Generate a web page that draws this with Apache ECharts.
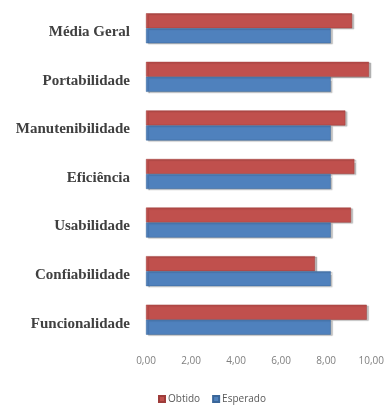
<!DOCTYPE html>
<html>
<head>
<meta charset="utf-8">
<script src="https://cdn.jsdelivr.net/npm/echarts@6/dist/echarts.min.js"></script>
<style>html,body{margin:0;padding:0;background:#fff;}#c{width:387px;height:405px;}</style>
</head>
<body>
<div id="c"></div>
<script>
// categories bottom -> top (ECharts category y-axis starts at bottom)
var categories = ['Funcionalidade', 'Confiabilidade', 'Usabilidade', 'Eficiência', 'Manutenibilidade', 'Portabilidade', 'Média Geral'];
var obtido = [9.8, 7.5, 9.1, 9.25, 8.85, 9.9, 9.15];
var esperado = [8.2, 8.2, 8.2, 8.2, 8.2, 8.2, 8.2];
var xTicks = [0, 2, 4, 6, 8, 10];

var chart = echarts.init(document.getElementById('c'), null, {renderer: 'canvas'});
chart.setOption({
  animation: false,
  backgroundColor: '#ffffff',
  grid: {left: 146, right: 13, top: 4, bottom: 61, containLabel: false},
  legend: {
    top: 389,
    left: 153,
    icon: 'rect',
    itemWidth: 6,
    itemHeight: 6,
    itemGap: 12,
    textStyle: {color: '#595959', fontSize: 10, fontFamily: 'Open Sans', padding: [0, 0, 0, -2]},
    data: ['Obtido', 'Esperado']
  },
  xAxis: {
    type: 'value',
    min: xTicks[0],
    max: xTicks[xTicks.length - 1],
    interval: 2,
    axisLine: {show: false},
    axisTick: {show: false},
    splitLine: {show: false},
    axisLabel: {
      margin: 12,
      color: '#7f7f7f',
      fontSize: 10,
      fontFamily: 'Open Sans',
      formatter: function (v) { return v.toFixed(2).replace('.', ','); }
    }
  },
  yAxis: {
    type: 'category',
    data: categories,
    axisLine: {show: false},
    axisTick: {show: false},
    axisLabel: {
      margin: 16,
      formatter: function (v) { return '{a|' + v + '}'; },
      rich: {
        a: {
          color: '#404040',
          fontSize: 15,
          fontWeight: 'bold',
          fontFamily: 'Liberation Serif',
          padding: [8, 0, 0, 0]
        }
      }
    }
  },
  series: [
    {
      name: 'Obtido',
      type: 'bar',
      data: obtido,
      barWidth: 15,
      barGap: '0%',
      itemStyle: {color: '#C0504D', borderColor: '#9e3c3a', borderWidth: 0.5, shadowColor: 'rgba(0,0,0,0.25)', shadowOffsetX: 2, shadowOffsetY: 1, shadowBlur: 1}
    },
    {
      name: 'Esperado',
      type: 'bar',
      data: esperado,
      barWidth: 15,
      barGap: '0%',
      itemStyle: {color: '#4F81BD', borderColor: '#3a6699', borderWidth: 0.5, shadowColor: 'rgba(0,0,0,0.25)', shadowOffsetX: 2, shadowOffsetY: 1, shadowBlur: 1}
    }
  ]
});
</script>
</body>
</html>
